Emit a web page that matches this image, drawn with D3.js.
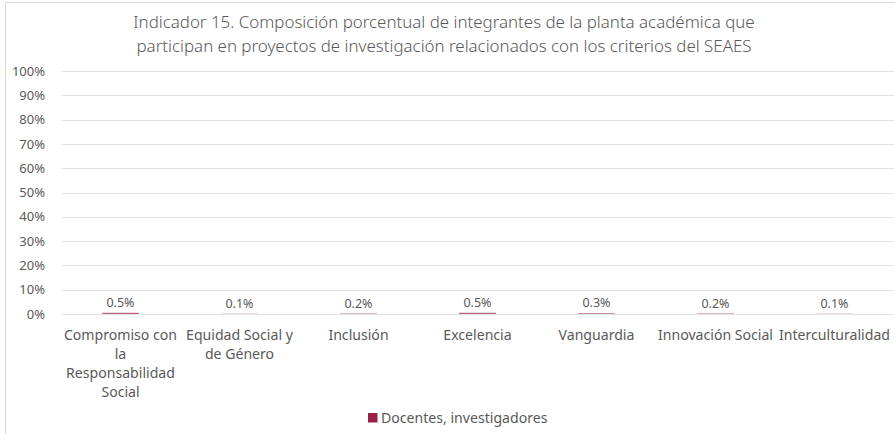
<!DOCTYPE html>
<html>
<head>
<meta charset="utf-8">
<script src="https://cdn.jsdelivr.net/npm/d3@7"></script>
<style>
  html, body { margin: 0; padding: 0; background: #fff; }
  svg { display: block; font-family: "Noto Sans", "Open Sans", sans-serif; }
</style>
</head>
<body>
<svg id="chart" width="895" height="434"></svg>
<script>
// Indicador 15 – porcentaje por criterio SEAES
const categories = [
  ["Compromiso con", "la", "Responsabilidad", "Social"],
  ["Equidad Social y", "de Género"],
  ["Inclusión"],
  ["Excelencia"],
  ["Vanguardia"],
  ["Innovación Social"],
  ["Interculturalidad"]
];
const values = [0.5, 0.1, 0.2, 0.5, 0.3, 0.2, 0.1];
const yTicks = [0, 10, 20, 30, 40, 50, 60, 70, 80, 90, 100];
const seriesName = "Docentes, investigadores";
const titleLines = [
  "Indicador 15. Composición porcentual de integrantes de la planta académica que",
  "participan en proyectos de investigación relacionados con los criterios del SEAES"
];

const svg = d3.select("#chart");
const W = 895, H = 434;
const plot = { left: 61, right: 894, top: 71, bottom: 314 };
const barColor = "#9b2247";
const textColor = "#595959";

// chart frame
svg.append("rect")
  .attr("x", 5.5).attr("y", 2.5)
  .attr("width", W + 10).attr("height", H + 10)
  .attr("fill", "#fff").attr("stroke", "#d9d9d9").attr("stroke-width", 1);

// title
svg.append("g").selectAll("text")
  .data(titleLines).join("text")
  .attr("x", 444).attr("y", (d, i) => 28 + i * 24)
  .attr("text-anchor", "middle")
  .attr("font-size", 16.9)
  .attr("font-weight", 300)
  .attr("fill", textColor)
  .text(d => d);

const x = d3.scaleBand()
  .domain(d3.range(categories.length))
  .range([plot.left, plot.right])
  .paddingInner(0.69).paddingOuter(0.345);

const y = d3.scaleLinear().domain([0, 100]).range([plot.bottom, plot.top]);

// gridlines
svg.append("g").selectAll("line")
  .data(yTicks).join("line")
  .attr("x1", plot.left).attr("x2", plot.right)
  .attr("y1", d => Math.round(y(d)) + 0.5).attr("y2", d => Math.round(y(d)) + 0.5)
  .attr("stroke", "#e3e3e3").attr("stroke-width", 1);

// y axis labels
const yAxis = d3.axisLeft(y).tickValues(yTicks).tickFormat(d => d + "%").tickSize(0).tickPadding(16);
svg.append("g")
  .attr("transform", `translate(${plot.left},0)`)
  .call(yAxis)
  .call(g => g.select(".domain").remove())
  .call(g => g.selectAll("text")
    .attr("font-family", "'Noto Sans', 'Open Sans', sans-serif")
    .attr("font-size", 13).attr("fill", textColor));

// bars
svg.append("g").selectAll("rect")
  .data(values).join("rect")
  .attr("x", (d, i) => x(i))
  .attr("width", x.bandwidth())
  .attr("y", d => y(d))
  .attr("height", d => y(0) - y(d))
  .attr("fill", barColor)
  .attr("fill-opacity", 0.7);

// data labels
svg.append("g").selectAll("text")
  .data(values).join("text")
  .attr("x", (d, i) => x(i) + x.bandwidth() / 2)
  .attr("y", d => y(d) - 6)
  .attr("text-anchor", "middle")
  .attr("font-size", 12.5).attr("fill", textColor)
  .text(d => d.toFixed(1) + "%");

// category labels
const cat = svg.append("g").selectAll("text")
  .data(categories).join("text")
  .attr("x", (d, i) => x(i) + x.bandwidth() / 2)
  .attr("y", 340)
  .attr("text-anchor", "middle")
  .attr("font-size", 14.1).attr("fill", textColor);
cat.selectAll("tspan")
  .data((d, i) => d.map(t => ({ t, i })))
  .join("tspan")
  .attr("x", d => x(d.i) + x.bandwidth() / 2)
  .attr("dy", (d, j) => j === 0 ? 0 : 19)
  .text(d => d.t);

// legend
const lg = svg.append("g").attr("transform", "translate(368,423)");
lg.append("rect").attr("x", 0).attr("y", -10).attr("width", 9.5).attr("height", 9.5).attr("fill", barColor);
lg.append("text").attr("x", 13).attr("y", 0)
  .attr("font-size", 14.1).attr("fill", textColor).text(seriesName);
</script>
</body>
</html>
